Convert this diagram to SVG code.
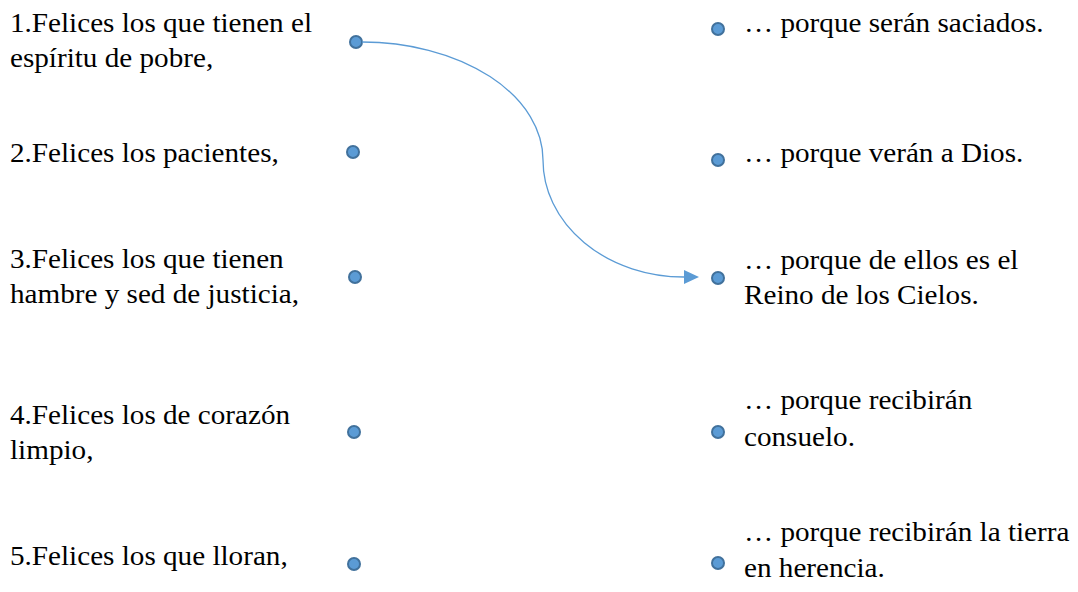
<svg xmlns="http://www.w3.org/2000/svg" width="1078" height="592" viewBox="0 0 1078 592">
  <style>
    .t { font-family: "Liberation Serif", "Times New Roman", serif; font-size: 27px; fill: #000; }
    .dot { fill: #5b9bd5; stroke: #41719c; stroke-width: 2; }
    .conn { fill: none; stroke: #5b9bd5; stroke-width: 1.3; }
  </style>
  <defs>
    <marker id="arrow" markerUnits="userSpaceOnUse" markerWidth="16" markerHeight="16" refX="0" refY="7" orient="auto">
      <polygon points="0,0 15,7 0,14" fill="#5b9bd5"/>
    </marker>
  </defs>
  <rect width="1078" height="592" fill="#fff"/>

  <g id="left1">
    <g transform="translate(10,0) scale(1.08,1)">
      <text class="t" x="0" y="32">1.Felices los que tienen el</text>
      <text class="t" x="0" y="67">espíritu de pobre,</text>
    </g>
    <circle class="dot" cx="356" cy="42" r="6"/>
  </g>
  <g id="left2">
    <g transform="translate(10,0) scale(1.08,1)">
      <text class="t" x="0" y="162">2.Felices los pacientes,</text>
    </g>
    <circle class="dot" cx="353" cy="152" r="6"/>
  </g>
  <g id="left3">
    <g transform="translate(10,0) scale(1.08,1)">
      <text class="t" x="0" y="268">3.Felices los que tienen</text>
      <text class="t" x="0" y="303">hambre y sed de justicia,</text>
    </g>
    <circle class="dot" cx="355" cy="277" r="6"/>
  </g>
  <g id="left4">
    <g transform="translate(10,0) scale(1.08,1)">
      <text class="t" x="0" y="424">4.Felices los de corazón</text>
      <text class="t" x="0" y="459">limpio,</text>
    </g>
    <circle class="dot" cx="354" cy="432" r="6"/>
  </g>
  <g id="left5">
    <g transform="translate(10,0) scale(1.08,1)">
      <text class="t" x="0" y="565">5.Felices los que lloran,</text>
    </g>
    <circle class="dot" cx="354" cy="564" r="6"/>
  </g>

  <g id="right1">
    <circle class="dot" cx="718" cy="29" r="6"/>
    <g transform="translate(744,0) scale(1.08,1)">
      <text class="t" x="0" y="32">… porque serán saciados.</text>
    </g>
  </g>
  <g id="right2">
    <circle class="dot" cx="718" cy="160" r="6"/>
    <g transform="translate(744,0) scale(1.08,1)">
      <text class="t" x="0" y="162">… porque verán a Dios.</text>
    </g>
  </g>
  <g id="right3">
    <circle class="dot" cx="718" cy="278" r="6"/>
    <g transform="translate(744,0) scale(1.08,1)">
      <text class="t" x="0" y="269">… porque de ellos es el</text>
      <text class="t" x="0" y="304">Reino de los Cielos.</text>
    </g>
  </g>
  <g id="right4">
    <circle class="dot" cx="718" cy="432" r="6"/>
    <g transform="translate(744,0) scale(1.08,1)">
      <text class="t" x="0" y="409">… porque recibirán</text>
      <text class="t" x="0" y="446">consuelo.</text>
    </g>
  </g>
  <g id="right5">
    <circle class="dot" cx="718" cy="563" r="6"/>
    <g transform="translate(744,0) scale(1.08,1)">
      <text class="t" x="0" y="541">… porque recibirán la tierra</text>
      <text class="t" x="0" y="577">en herencia.</text>
    </g>
  </g>

  <g id="connectors">
    <path class="conn" d="M362,42 A181,118 0 0 1 543,160 A141,117 0 0 0 684,277" marker-end="url(#arrow)"/>
  </g>
</svg>
